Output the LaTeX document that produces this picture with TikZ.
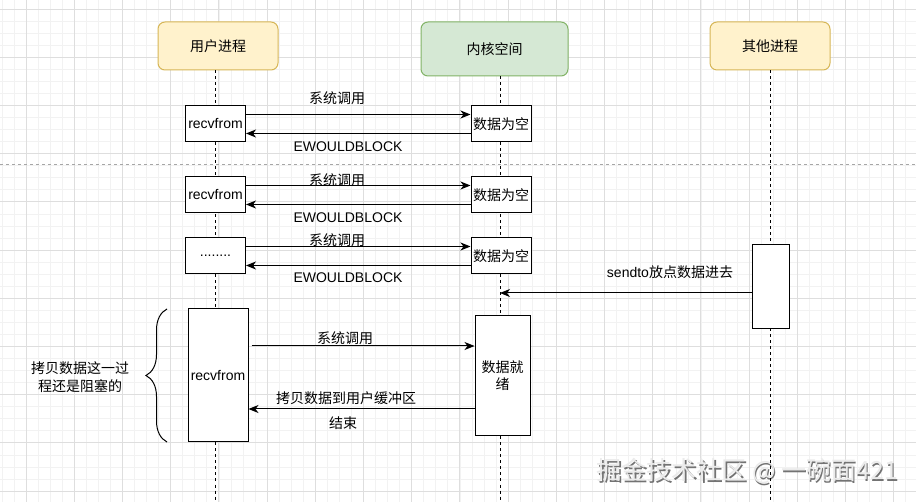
\documentclass[tikz,border=0pt]{standalone}
\usepackage{fontspec}
\setmainfont{Liberation Sans}
\newfontfamily\cjk{Noto Sans CJK SC}
\usetikzlibrary{arrows.meta,decorations.pathreplacing}
\definecolor{yfill}{HTML}{FFF2CC}
\definecolor{ydraw}{HTML}{D6B656}
\definecolor{gfill}{HTML}{D5E8D4}
\definecolor{gdraw}{HTML}{82B366}

\begin{document}
\begin{tikzpicture}[x=1pt,y=-1pt,
		font=\fontsize{14}{18}\selectfont,
		head/.style={draw,rounded corners=7pt,line width=1pt,inner sep=0pt,minimum width=120pt,minimum height=48pt,font=\fontsize{14}{18}\selectfont\cjk},
		act/.style={draw,fill=white,line width=1pt,inner sep=0pt,minimum width=60pt,minimum height=36pt},
		life/.style={line width=1pt,dash pattern=on 3pt off 3pt},
		msg/.style={line width=1pt,-{Stealth[length=10pt,width=8pt,inset=3pt]}},
		lbl/.style={inner sep=0pt,font=\fontsize{14}{18}\selectfont\cjk},
		minor/.style={black!5,line width=0.6pt},
		major/.style={black!13,line width=0.8pt}]
		\useasboundingbox (0,0) rectangle (916,502);
		\fill[white] (0,0) rectangle (916,502);
		% grid
		\foreach \i in {-2,...,73}
			\draw[minor] ({26+12.05*\i},0) -- ({26+12.05*\i},502);
		\foreach \i in {-1,...,40}
			\draw[minor] (0,{9+12.05*\i}) -- (916,{9+12.05*\i});
		\foreach \i in {0,...,18}
			\draw[major] ({26+48.2*\i},0) -- ({26+48.2*\i},502);
		\foreach \i in {0,...,10}
			\draw[major] (0,{9+48.2*\i}) -- (916,{9+48.2*\i});
		\draw[black!35,line width=0.8pt,dash pattern=on 3pt off 3pt] (0,164) -- (916,164);

		% watermark
		\node[inner sep=0pt,text=black!55,font=\fontsize{25}{29}\selectfont\cjk] (mark-s) at (748.8,472.8) {掘金技术社区 @ 一碗面421};
		\node[inner sep=0pt,text=black!8,font=\fontsize{25}{29}\selectfont\cjk] (mark) at (747.5,471.5) {掘金技术社区 @ 一碗面421};

		\node[head,fill=yfill,draw=ydraw] (user) at (218,46) {用户进程};
		\node[head,fill=gfill,draw=gdraw,minimum width=147pt,minimum height=54pt] (kernel) at (494.5,49) {内核空间};
		\node[head,fill=yfill,draw=ydraw] (other) at (770,46) {其他进程};

		\coordinate (uend) at (215,502);
		\coordinate (kend) at (500,502);
		\coordinate (oend) at (770,502);
		\draw[life] (uend |- user.south) -- (uend);
		\draw[life] (kend |- kernel.south) -- (kend);
		\draw[life] (oend |- other.south) -- (oend);

		% three polls
		\node[act] (recv-1) at (215.5,124) {recvfrom};
		\node[act] (recv-2) at (215.5,195) {recvfrom};
		\node[act] (recv-3) at (215.5,256) {........};
		\foreach \r/\y in {1/124,2/195,3/256}
			{
				\node[act,font=\fontsize{14}{18}\selectfont\cjk] (empty-\r) at (501,\y) {数据为空};
				\draw[msg] ([yshift=-9pt]recv-\r.north east) -- ([yshift=-9pt]empty-\r.north west);
				\draw[msg] ([yshift=-28pt]empty-\r.north west) -- ([yshift=-28pt]recv-\r.north east);
			}
		\node[lbl] (call-1) at (337,98) {系统调用};
		\node[lbl] (call-2) at (337,180) {系统调用};
		\node[lbl] (call-3) at (337,240) {系统调用};
		\node[lbl,font=\fontsize{14}{18}\selectfont] (block-1) at (348,147) {EWOULDBLOCK};
		\node[lbl,font=\fontsize{14}{18}\selectfont] (block-2) at (348,218) {EWOULDBLOCK};
		\node[lbl,font=\fontsize{14}{18}\selectfont] (block-3) at (348,278) {EWOULDBLOCK};

		% other process sends
		\node[act,minimum width=37pt,minimum height=84pt] (send) at (770.5,287) {};
		\coordinate (sd) at ([yshift=-6pt]send.west);
		\draw[msg] (sd) -- (sd -| kend);
		\node[lbl,font=\fontsize{14}{18}\selectfont] (sendlbl) at (670,272) {sendto{\cjk 放点数据进去}};

		% blocking copy
		\node[act,minimum height=133pt] (recv-4) at (218,375.5) {recvfrom};
		\node[act,minimum width=55pt,minimum height=120pt,align=center,font=\fontsize{14}{17}\selectfont\cjk] (ready) at (502.5,376) {数据就\\绪};
		\coordinate (c1) at ([xshift=3pt,yshift=29.5pt]recv-4.east);
		\draw[msg] (c1) -- (c1 -| ready.west);
		\coordinate (c2) at ([yshift=-33pt]ready.west);
		\draw[msg] (c2) -- (c2 -| recv-4.east);
		\node[lbl] (call-4) at (345,338) {系统调用};
		\node[lbl] (copy) at (346,398) {拷贝数据到用户缓冲区};
		\node[lbl] (done) at (343,423) {结束};

		\coordinate (bt) at (167,309);
		\coordinate (bb) at (167,442);
		\draw[line width=1pt,decorate,decoration={brace,amplitude=21pt}] (bb) -- (bt);
		\node[lbl,align=center] (note) at (80,377) {拷贝数据这一过\\程还是阻塞的};
	\end{tikzpicture}
\end{document}
